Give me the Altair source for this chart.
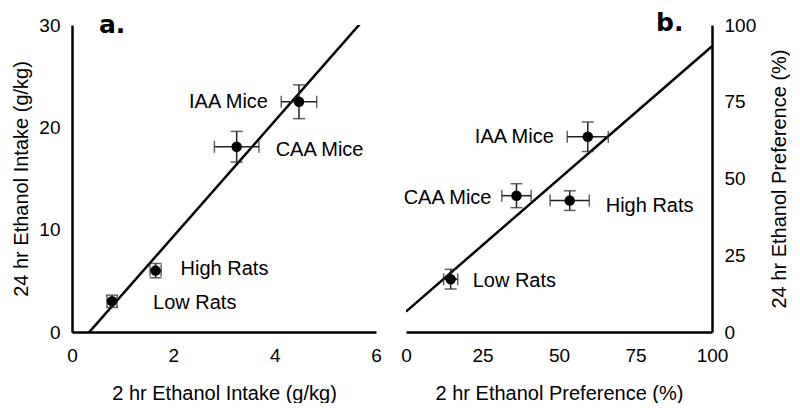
import altair as alt
import pandas as pd

# ---------------- data ----------------
groups = ["Low Rats", "High Rats", "CAA Mice", "IAA Mice"]

# panel a: intake (g/kg)
intake_2h = [0.79, 1.65, 3.25, 4.48]
intake_2h_err = [0.10, 0.11, 0.44, 0.35]
intake_24h = [3.0, 6.0, 18.1, 22.5]
intake_24h_err = [0.6, 0.7, 1.5, 1.65]

# panel b: preference (%)
pref_2h = [14.6, 53.5, 36.1, 59.4]
pref_2h_err = [2.3, 6.4, 4.8, 6.7]
pref_24h = [17.2, 42.8, 44.4, 63.6]
pref_24h_err = [3.2, 3.2, 3.9, 4.8]

ticks_a_x = [0, 2, 4, 6]
ticks_a_y = [0, 10, 20, 30]
ticks_b_x = [0, 25, 50, 75, 100]
ticks_b_y = [0, 25, 50, 75, 100]

FONT = "Liberation Sans"

# label placement (style, not data): align, dx, dy
offsets_a = {
    "IAA Mice": ("right", -31, 0),
    "CAA Mice": ("left", 39, 3),
    "High Rats": ("left", 25, -2),
    "Low Rats": ("left", 41, 2),
}
offsets_b = {
    "IAA Mice": ("right", -34, 0),
    "CAA Mice": ("right", -25, 2),
    "High Rats": ("left", 36, 5),
    "Low Rats": ("left", 22, 2),
}


def make_df(xv, xe, yv, ye):
    return pd.DataFrame({
        "group": groups,
        "x": xv,
        "y": yv,
        "xlo": [a - b for a, b in zip(xv, xe)],
        "xhi": [a + b for a, b in zip(xv, xe)],
        "ylo": [a - b for a, b in zip(yv, ye)],
        "yhi": [a + b for a, b in zip(yv, ye)],
    })


def panel(df, xdom, ydom, xticks, yticks, xtitle, ytitle, yorient, letter,
          letter_pos, offsets, w, h):
    xs = alt.Scale(domain=xdom, nice=False, zero=False)
    ys = alt.Scale(domain=ydom, nice=False, zero=False)
    xax = alt.Axis(values=xticks, title=xtitle, labelPadding=14, titlePadding=18,
                   labelFlush=False)
    if yorient == "left":
        yax = alt.Axis(values=yticks, title=ytitle, orient="left",
                       labelPadding=12, titlePadding=7, labelFlush=False)
    else:
        yax = alt.Axis(values=yticks, title=ytitle, orient="right",
                       labelPadding=12, titlePadding=14, titleAngle=270,
                       titleBaseline="top", labelFlush=False)

    def X(f):
        return alt.X(f"{f}:Q", scale=xs, axis=xax)

    def Y(f):
        return alt.Y(f"{f}:Q", scale=ys, axis=yax)

    base = alt.Chart(df)
    reg = base.transform_regression("x", "y", extent=xdom).mark_line(
        color="black", strokeWidth=2.5, clip=True
    ).encode(x=X("x"), y=Y("y"))

    hbar = base.mark_rule(color="#222", strokeWidth=1.5).encode(
        x=X("xlo"), x2="xhi:Q", y=Y("y"))
    vbar = base.mark_rule(color="#222", strokeWidth=1.5).encode(
        x=X("x"), y=Y("ylo"), y2="yhi:Q")
    cap_l = base.mark_tick(orient="vertical", size=12, thickness=1.5, color="#222").encode(
        x=X("xlo"), y=Y("y"))
    cap_r = base.mark_tick(orient="vertical", size=12, thickness=1.5, color="#222").encode(
        x=X("xhi"), y=Y("y"))
    cap_b = base.mark_tick(orient="horizontal", size=12, thickness=1.5, color="#222").encode(
        x=X("x"), y=Y("ylo"))
    cap_t = base.mark_tick(orient="horizontal", size=12, thickness=1.5, color="#222").encode(
        x=X("x"), y=Y("yhi"))
    pts = base.mark_circle(size=110, color="black", opacity=1).encode(
        x=X("x"), y=Y("y"))

    labels = []
    for g, (al, dx, dy) in offsets.items():
        labels.append(
            base.transform_filter(alt.datum.group == g).mark_text(
                align=al, baseline="middle", dx=dx, dy=dy, fontSize=20,
                font=FONT, color="black"
            ).encode(x=X("x"), y=Y("y"), text="group:N")
        )

    let = alt.Chart(pd.DataFrame({"t": [letter]})).mark_text(
        align="left", baseline="alphabetic", fontSize=25, fontWeight="bold",
        font="DejaVu Sans", color="black"
    ).encode(x=alt.value(letter_pos[0]), y=alt.value(letter_pos[1]), text="t:N")

    return alt.layer(reg, hbar, vbar, cap_l, cap_r, cap_b, cap_t, pts, *labels, let).properties(
        width=w, height=h)


df_a = make_df(intake_2h, intake_2h_err, intake_24h, intake_24h_err)
df_b = make_df(pref_2h, pref_2h_err, pref_24h, pref_24h_err)

pa = panel(df_a, [0, 6], [0, 30], ticks_a_x, ticks_a_y,
           "2 hr Ethanol Intake (g/kg)", "24 hr Ethanol Intake (g/kg)", "left",
           "a.", (27, 8), offsets_a, 304, 307)
pb = panel(df_b, [0, 100], [0, 100], ticks_b_x, ticks_b_y,
           "2 hr Ethanol Preference (%)", "24 hr Ethanol Preference (%)", "right",
           "b.", (250, 6), offsets_b, 306, 307)

chart = alt.hconcat(pa, pb, spacing=30, bounds="flush").properties(
    padding={"left": 3, "top": 3, "right": 0, "bottom": 0}
).configure_view(stroke=None).configure_axis(
    domainColor="black", domainWidth=2.5, ticks=False, tickSize=0, grid=False,
    labelFont=FONT, labelFontSize=19, labelColor="black",
    titleFont=FONT, titleFontSize=20, titleFontWeight="normal", titleColor="black",
)

chart.save("out.html", embed_options={"renderer": "svg", "actions": False})
